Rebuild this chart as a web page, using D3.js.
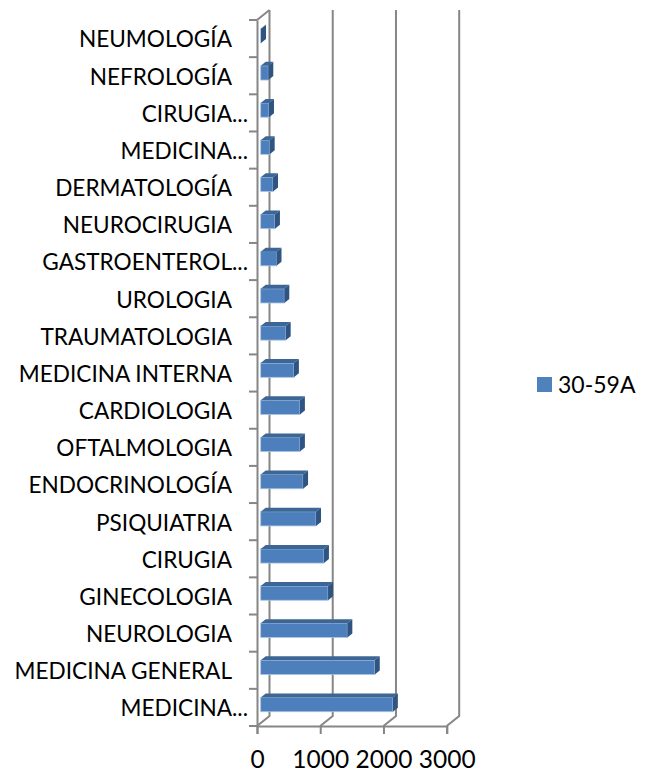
<!DOCTYPE html>
<html>
<head>
<meta charset="utf-8">
<script src="https://d3js.org/d3.v7.min.js"></script>
<style>
  html, body { margin: 0; padding: 0; background: #fff; }
  text { font-family: Lato, "Open Sans", sans-serif; fill: #000; }
</style>
</head>
<body>
<div id="graph"></div>
<script>
// data, bottom row first
var categories = ["MEDICINA...", "MEDICINA GENERAL", "NEUROLOGIA", "GINECOLOGIA", "CIRUGIA", "PSIQUIATRIA",
  "ENDOCRINOLOGÍA", "OFTALMOLOGIA", "CARDIOLOGIA", "MEDICINA INTERNA", "TRAUMATOLOGIA", "UROLOGIA",
  "GASTROENTEROL...", "NEUROCIRUGIA", "DERMATOLOGÍA", "MEDICINA...", "CIRUGIA...", "NEFROLOGÍA", "NEUMOLOGÍA"];
var values = [2090, 1804, 1370, 1065, 1000, 875, 670, 620, 620, 525, 395, 373, 250, 225, 195, 142, 131, 120, 5];
var xTicks = [0, 1000, 2000, 3000];
var seriesName = "30-59A";

var width = 652, height = 772;
var plot = {left: 257, right: 446.7, top: 20, bottom: 726};
var wallDx = 12.5, wallDy = -10;   // depth of the 3d box
var barDx = 5, barDy = -4;         // depth of one bar
var barInset = 3.7;

var svg = d3.select("#graph").append("svg").attr("width", width).attr("height", height);

var xScale = d3.scaleLinear().domain([0, 3000]).range([plot.left, plot.right]);
// rows keep their index so the repeated labels stay separate
var yScale = d3.scaleBand().domain(d3.range(categories.length)).range([plot.bottom, plot.top]);

var grey = "#868686";

// back wall gridlines and floor
svg.append("g").selectAll("path")
   .data(xTicks)
   .enter()
   .append("path")
   .attr("fill", "none").attr("stroke", grey).attr("stroke-width", 2)
   .attr("d", function(d) {
     var x = xScale(d);
     return "M" + x + "," + plot.bottom + "L" + (x + wallDx) + "," + (plot.bottom + wallDy) + "V" + (plot.top + wallDy);
   });

// side wall top edge
svg.append("path")
   .attr("fill", "none").attr("stroke", grey).attr("stroke-width", 2)
   .attr("d", "M" + plot.left + "," + plot.top + "L" + (plot.left + wallDx) + "," + (plot.top + wallDy));

// bars
var rows = svg.append("g").selectAll("g")
   .data(values)
   .enter()
   .append("g");

var barH = 14.2;
function barTop(i) { return yScale(i) + yScale.bandwidth() / 2 - 2.8 - barH / 2; }
function barEnd(d) { return xScale(d) + barInset; }

rows.append("rect") // front
   .attr("x", plot.left + barInset)
   .attr("y", function(d, i) { return barTop(i); })
   .attr("width", function(d) { return barEnd(d) - plot.left - barInset; })
   .attr("height", barH)
   .attr("fill", "#4c7fbc")
   .attr("stroke", "#a9c4e4").attr("stroke-width", 0.8);

rows.append("path") // top
   .attr("fill", "#3c6696")
   .attr("d", function(d, i) {
     var y = barTop(i), x0 = plot.left + barInset;
     return "M" + x0 + "," + y + "L" + (x0 + barDx) + "," + (y + barDy) + "H" + (barEnd(d) + barDx) + "L" + barEnd(d) + "," + y + "Z";
   });

rows.append("path") // side
   .attr("fill", "#2f5481")
   .attr("d", function(d, i) {
     var y = barTop(i), x = barEnd(d);
     return "M" + x + "," + y + "L" + (x + barDx) + "," + (y + barDy) + "V" + (y + barDy + barH) + "L" + x + "," + (y + barH) + "Z";
   });

// axes
var xAxis = d3.axisBottom(xScale).tickValues(xTicks).tickSize(8).tickPadding(17).tickFormat(d3.format("d"));
var yAxis = d3.axisLeft(yScale).tickValues([]).tickSize(0);

var xg = svg.append("g")
    .attr("class", "axis")
    .attr("transform", "translate(0," + plot.bottom + ")")
    .call(xAxis);
xg.select(".domain").attr("stroke", grey).attr("stroke-width", 2);
xg.selectAll("line").attr("stroke", grey).attr("stroke-width", 2);
xg.selectAll("text").attr("font-size", 24.5).attr("font-family", "Lato");

var yg = svg.append("g")
    .attr("class", "axis")
    .attr("transform", "translate(" + plot.left + ",0)")
    .call(yAxis);
yg.select(".domain").attr("stroke", grey).attr("stroke-width", 2);

// category ticks sit on the band edges
yg.selectAll("line.edge")
    .data(d3.range(categories.length + 1))
    .enter()
    .append("line")
    .attr("class", "edge")
    .attr("x1", -8).attr("x2", 0)
    .attr("y1", function(d) { return d < categories.length ? yScale(d) + yScale.bandwidth() : plot.top; })
    .attr("y2", function(d) { return d < categories.length ? yScale(d) + yScale.bandwidth() : plot.top; })
    .attr("stroke", grey).attr("stroke-width", 2);

yg.selectAll("text.cat")
    .data(categories)
    .enter()
    .append("text")
    .attr("class", "cat")
    .attr("x", function(d) { return d.indexOf("...") > 0 ? -9 : -25; })
    .attr("y", function(d, i) { return yScale(i) + yScale.bandwidth() / 2 + 1; })
    .attr("dy", "0.35em")
    .attr("text-anchor", "end")
    .attr("font-size", 22.6)
    .text(function(d) { return d; });

// legend
svg.append("rect").attr("x", 537).attr("y", 377).attr("width", 15).attr("height", 15).attr("fill", "#4f81bd");
svg.append("text").attr("x", 558).attr("y", 385).attr("dy", "0.35em").attr("font-size", 23).text(seriesName);
</script>
</body>
</html>
